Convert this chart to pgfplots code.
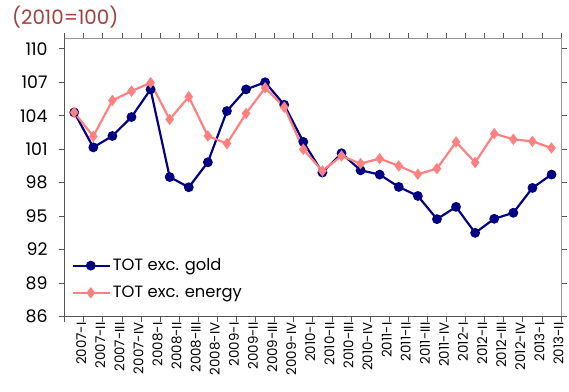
\documentclass[border=0pt]{standalone}
\usepackage{pgfplots}
\pgfplotsset{compat=1.18}
\usepackage{fontspec}
\setmainfont{Poppins}
\definecolor{navyline}{RGB}{0,0,128}
\definecolor{pinkline}{RGB}{255,128,128}
\definecolor{titlered}{RGB}{160,64,64}
\definecolor{axisgray}{RGB}{85,85,85}
\definecolor{framegray}{RGB}{150,150,150}

\begin{document}
\begin{tikzpicture}[x=1bp,y=1bp]
\path[use as bounding box] (0,-1) rectangle (572,393);
\node[anchor=west,text=titlered,font=\fontsize{20}{22}\selectfont,inner sep=0pt] at (12,376) {(2010=100)};
\begin{axis}[
  at={(65bp,75bp)}, anchor=south west,
  scale only axis, width=499bp, height=279bp,
  xmin=-0.5, xmax=25.5, ymin=86, ymax=110.9,
  axis line style={draw=none},
  ytick={86,89,...,110},
  xtick={0,...,25},
  xticklabels={2007-I,2007-II,2007-III,2007-IV,2008-I,2008-II,2008-III,2008-IV,2009-I,2009-II,2009-III,2009-IV,2010-I,2010-II,2010-III,2010-IV,2011-I,2011-II,2011-III,2011-IV,2012-I,2012-II,2012-III,2012-IV,2013-I,2013-II},
  major x tick style={draw=none},
  minor xtick={-0.5,0.5,...,25.5},
  minor tick length=6bp,
  major tick length=6bp,
  tick align=outside,
  tick style={axisgray, line width=0.8pt},
  xticklabel style={rotate=90, anchor=east, font=\fontsize{13.5}{14}\selectfont, inner sep=0pt, yshift=-7bp},
  yticklabel style={font=\fontsize{17.5}{19}\selectfont, inner sep=0pt, xshift=-11bp},
  /pgf/number format/assume math mode=true,
  legend style={at={(0.014,0.215)}, anchor=north west, draw=none, fill=none,
    font=\fontsize{16.5}{18}\selectfont, row sep=10bp, inner sep=0pt},
  legend cell align=left,
  legend image code/.code={
    \draw[#1] (0bp,0bp) -- (18bp,0bp) plot coordinates {(18bp,0bp)} -- (37bp,0bp);
  },
  clip=false,
]
% frame: light top and right edges, darker left and bottom axis lines
\draw[framegray, line width=1pt] (axis cs:-0.5,110.9) -- (axis cs:25.5,110.9) -- (axis cs:25.5,86);
\draw[axisgray, line width=1.2pt] (axis cs:-0.5,110.9) -- (axis cs:-0.5,86) -- (axis cs:25.5,86);

\addplot[navyline, line width=2.2pt, mark=*, mark size=3.8pt, mark options={solid}] coordinates {
(0,104.3) (1,101.16) (2,102.18) (3,103.88) (4,106.36) (5,98.5) (6,97.58) (7,99.82)
(8,104.42) (9,106.36) (10,107.0) (11,104.98) (12,101.65) (13,98.9) (14,100.63) (15,99.1)
(16,98.72) (17,97.61) (18,96.8) (19,94.72) (20,95.82) (21,93.49) (22,94.75) (23,95.29)
(24,97.52) (25,98.72)
};
\addlegendentry{TOT exc. gold}

\addplot[pinkline, line width=2.2pt, mark=diamond*, mark size=4pt, mark options={solid}] coordinates {
(0,104.3) (1,102.15) (2,105.37) (3,106.2) (4,106.96) (5,103.67) (6,105.7) (7,102.18)
(8,101.5) (9,104.2) (10,106.5) (11,104.77) (12,100.99) (13,99.04) (14,100.39) (15,99.7)
(16,100.15) (17,99.5) (18,98.75) (19,99.25) (20,101.64) (21,99.8) (22,102.39) (23,101.88)
(24,101.7) (25,101.1)
};
\addlegendentry{TOT exc. energy}
\end{axis}
\end{tikzpicture}
\end{document}
